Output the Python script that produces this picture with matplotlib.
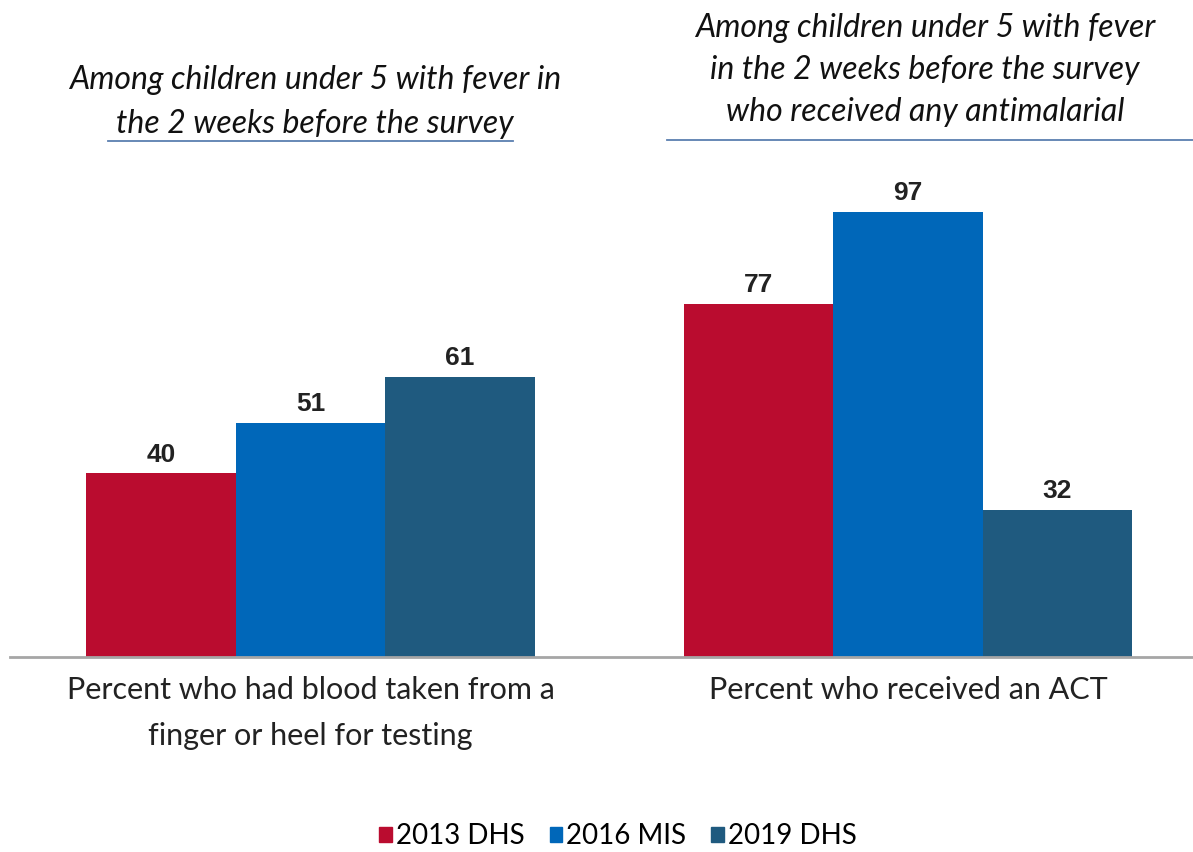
import matplotlib.pyplot as plt
import numpy as np
from matplotlib.patches import Patch

categories = ["Percent who had blood taken from a\nfinger or heel for testing",
              "Percent who received an ACT"]
series = ["2013 DHS", "2016 MIS", "2019 DHS"]
values = {
    "2013 DHS": [40, 77],
    "2016 MIS": [51, 97],
    "2019 DHS": [61, 32],
}
colors = ["#BA0C2F", "#0067B9", "#1F5A7F"]
headers = ["Among children under 5 with fever in\nthe 2 weeks before the survey",
           "Among children under 5 with fever\nin the 2 weeks before the survey\nwho received any antimalarial"]

fig = plt.figure(figsize=(11.93, 8.52), dpi=100)
ax = fig.add_axes([10 / 1193, 195 / 852, 1 - 10 / 1193, 507 / 852])

x = np.arange(len(categories))
w = 0.25
for i, s in enumerate(series):
    pos = x + (i - 1) * w
    bars = ax.bar(pos, values[s], width=w, color=colors[i], label=s)
    for b, v in zip(bars, values[s]):
        ax.text(b.get_x() + b.get_width() / 2, v + 1.5, str(v), ha="center", va="bottom",
                fontsize=19, fontweight="bold", color="#222222", family="Liberation Sans")

ax.set_xlim(-0.503, 1.477)
ax.set_ylim(0, 110.5)
ax.set_yticks([])
ax.set_xticks(x)
ax.set_xticklabels(categories, fontsize=22, family="Lato", color="#222222", linespacing=1.75)
ax.tick_params(axis="x", length=0, pad=14)
for sp in ["top", "right", "left"]:
    ax.spines[sp].set_visible(False)
ax.spines["bottom"].set_color("#a6a6a6")
ax.spines["bottom"].set_linewidth(2)

# group headers with underline
fig.text(315 / 1193, 1 - 102 / 852, headers[0], ha="center", va="center", fontsize=23,
         style="italic", family="Lato", color="#111111", linespacing=1.6)
fig.text(925 / 1193, 1 - 70 / 852, headers[1], ha="center", va="center", fontsize=23,
         style="italic", family="Lato", color="#111111", linespacing=1.5)
fig.add_artist(plt.Line2D([108 / 1193, 513 / 1193], [1 - 141 / 852] * 2, color="#5b7fb0", lw=1.3))
fig.add_artist(plt.Line2D([667 / 1193, 1.0], [1 - 140 / 852] * 2, color="#5b7fb0", lw=1.3))

handles = [Patch(color=c) for c in colors]
fig.legend(handles, series, loc="center", bbox_to_anchor=(618 / 1193, 1 - 836 / 852), ncol=3,
           frameon=False, prop={"family": "Lato", "size": 20}, handlelength=0.45, handleheight=0.45,
           handletextpad=0.15, columnspacing=0.9)

fig.savefig("out.png", dpi=100)
